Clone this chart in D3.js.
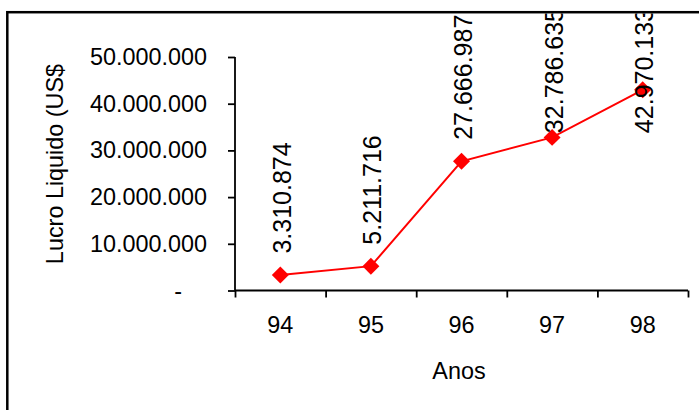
<!DOCTYPE html>
<html>
<head>
<meta charset="utf-8">
<script src="https://cdn.jsdelivr.net/npm/d3@7"></script>
<style>
  html, body { margin: 0; padding: 0; background: #fff; }
  svg { display: block; }
  text { font-family: "Liberation Sans", Arial, sans-serif; fill: #000; }
</style>
</head>
<body>
<svg id="chart" width="699" height="410"></svg>
<script>
// Lucro líquido anual (US$)
const anos = ["94", "95", "96", "97", "98"];
const lucro = [3310874, 5211716, 27666987, 32786635, 42970133];
const yTickValues = [0, 10000000, 20000000, 30000000, 40000000, 50000000];
const yTitle = "Lucro Liquido (US$";
const xTitle = "Anos";

const W = 699, H = 410;
const svg = d3.select("#chart");

svg.append("rect").attr("width", W).attr("height", H).attr("fill", "#fff");

const plot = { left: 235, right: 688, top: 57, bottom: 290.5 };

const br = d3.formatLocale({ decimal: ",", thousands: ".", grouping: [3], currency: ["US$", ""] });
const fmt = br.format(",d");

const x = d3.scaleBand().domain(anos).range([plot.left, plot.right]).padding(0);
const xEdges = d3.scaleLinear().domain([0, anos.length]).range([plot.left, plot.right]);
const y = d3.scaleLinear().domain([0, 50000000]).range([plot.bottom, plot.top]);

const tickFont = 23.4;

// Clip for labels: everything inside the frame
svg.append("defs").append("clipPath").attr("id", "inside")
  .append("rect").attr("x", 8.5).attr("y", 13.4).attr("width", W).attr("height", H);

// Y axis
const yAxis = svg.append("g")
  .attr("transform", `translate(${plot.left},0)`)
  .call(d3.axisLeft(y).tickValues(yTickValues).tickSize(7).tickPadding(21)
    .tickFormat(d => d === 0 ? "-" : fmt(d)));
yAxis.select(".domain").attr("d", `M0,${plot.top}V${plot.bottom}`);
yAxis.selectAll("path, line").attr("stroke", "#000").attr("stroke-width", 1.8);
yAxis.selectAll("text")
  .attr("font-size", tickFont)
  .attr("font-family", "'Liberation Sans', Arial, sans-serif")
  .attr("fill", "#000")
  .attr("dx", d => d === 0 ? -25 : 0);

// X axis: boundary ticks
const xTicks = svg.append("g")
  .attr("transform", `translate(0,${plot.bottom})`)
  .call(d3.axisBottom(xEdges).tickValues(d3.range(anos.length + 1)).tickSize(7).tickFormat(""));
xTicks.select(".domain").attr("d", `M${plot.left},0H${plot.right}`);
xTicks.selectAll("path, line").attr("stroke", "#000").attr("stroke-width", 1.8);

// X axis: category labels
const xLabels = svg.append("g")
  .attr("transform", `translate(0,${plot.bottom})`)
  .call(d3.axisBottom(x).tickSize(0).tickPadding(26));
xLabels.select(".domain").remove();
xLabels.selectAll("text")
  .attr("font-size", tickFont)
  .attr("font-family", "'Liberation Sans', Arial, sans-serif")
  .attr("fill", "#000");

// Axis titles
svg.append("text")
  .attr("x", 459).attr("y", 379)
  .attr("text-anchor", "middle")
  .attr("font-size", tickFont)
  .text(xTitle);

svg.append("text")
  .attr("transform", "translate(63,164) rotate(-90)")
  .attr("text-anchor", "middle")
  .attr("font-size", tickFont)
  .text(yTitle);

// Series line
const cx = d => x(d) + x.bandwidth() / 2;
const pts = anos.map((a, i) => [cx(a), y(lucro[i])]);

svg.append("path")
  .datum(pts)
  .attr("d", d3.line())
  .attr("fill", "none")
  .attr("stroke", "#ff0000")
  .attr("stroke-width", 2);

// Diamond markers
svg.append("g").selectAll("path")
  .data(pts)
  .join("path")
  .attr("d", d3.symbol(d3.symbolSquare, 144))
  .attr("transform", d => `translate(${d[0]},${d[1]}) rotate(45)`)
  .attr("fill", "#ff0000");

// Value labels, rotated, above each point, kept within the frame
const labelFont = 25;
const labels = svg.append("g").attr("clip-path", "url(#inside)");
labels.selectAll("text")
  .data(lucro)
  .join("text")
  .attr("font-size", labelFont)
  .text(d => fmt(d))
  .each(function (d, i) {
    const len = this.getComputedTextLength();
    let bottom = pts[i][1] - 21.5;
    const minTop = 8;
    if (bottom - len < minTop) bottom = minTop + len;
    d3.select(this).attr("transform", `translate(${pts[i][0] + 10.5},${bottom}) rotate(-90)`);
  });

// Outer frame
svg.append("rect")
  .attr("x", 7.3).attr("y", 12.2)
  .attr("width", 900).attr("height", 900)
  .attr("fill", "none")
  .attr("stroke", "#000")
  .attr("stroke-width", 2.5);
</script>
</body>
</html>
